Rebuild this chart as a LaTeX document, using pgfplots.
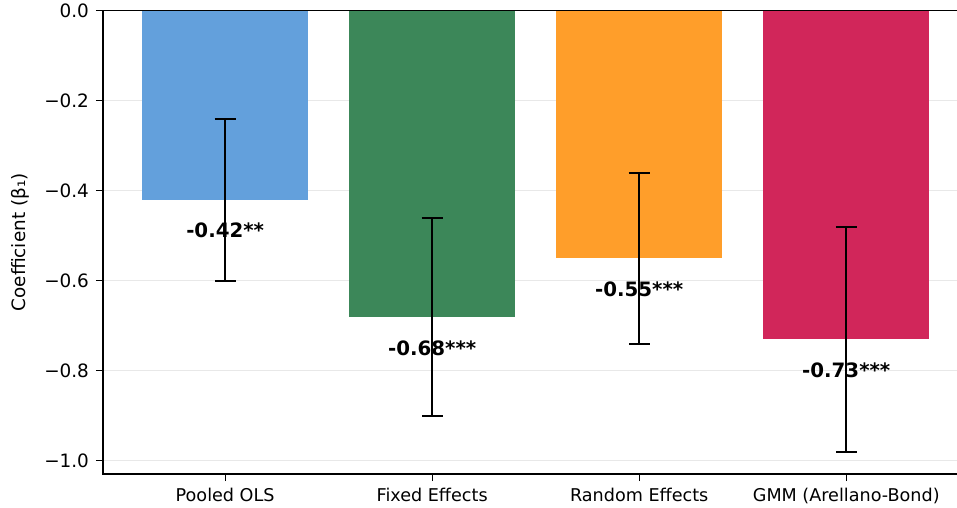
\documentclass[border=0pt]{standalone}
\usepackage{fontspec}
\setmainfont{DejaVu Sans}
\usepackage{pgfplots}
\pgfplotsset{compat=1.18}
\definecolor{cblue}{RGB}{99,160,220}
\definecolor{cgreen}{RGB}{60,135,89}
\definecolor{corange}{RGB}{255,158,42}
\definecolor{ccrimson}{RGB}{209,38,90}
\definecolor{gridc}{RGB}{232,232,232}
\begin{document}
\begin{tikzpicture}
\begin{axis}[
  scale only axis,
  width=433.73pt, height=231.7pt,
  xmin=-0.59, xmax=3.6,
  ymin=-1.03, ymax=0,
  xtick={0,1,2,3},
  xticklabels={Pooled OLS,Fixed Effects,Random Effects,GMM (Arellano-Bond)},
  ytick={-1.0,-0.8,-0.6,-0.4,-0.2,0.0},
  yticklabels={−1.0,−0.8,−0.6,−0.4,−0.2,0.0},
  tick label style={font=\fontsize{9.2}{11}\selectfont},
  xticklabel style={font=\fontsize{8.8}{11}\selectfont},
  tick pos=left,
  tick align=outside,
  major tick length=3.5pt,
  tick style={black, line width=0.6pt},
  axis line style={line width=0.6pt},
  ymajorgrids,
  grid style={gridc, line width=0.5pt},
  ylabel={Coefficient (β₁)},
  every axis y label/.style={at={(axis description cs:0,0.5)}, xshift=-41.5pt, rotate=90, anchor=center, font=\fontsize{9.2}{11}\selectfont},
]
\addplot[ybar, bar width=0.8, bar shift=0pt, fill=cblue, draw=none] coordinates {(0,-0.42)};
\addplot[ybar, bar width=0.8, bar shift=0pt, fill=cgreen, draw=none] coordinates {(1,-0.68)};
\addplot[ybar, bar width=0.8, bar shift=0pt, fill=corange, draw=none] coordinates {(2,-0.55)};
\addplot[ybar, bar width=0.8, bar shift=0pt, fill=ccrimson, draw=none] coordinates {(3,-0.73)};
\addplot[draw=none, mark=none, nodes near coords, point meta=explicit symbolic,
  every node near coord/.style={font=\bfseries\fontsize{9.9}{12}\selectfont, anchor=center, black}]
  coordinates {(0,-0.488) [-0.42**] (1,-0.750) [-0.68***] (2,-0.619) [-0.55***] (3,-0.800) [-0.73***]};
\addplot[draw=none, mark=none,
  error bars/.cd, y dir=both, y explicit,
  error bar style={black, line width=1pt},
  error mark options={rotate=90, mark size=5.25pt, line width=1pt, black}]
  coordinates {(0,-0.42) +- (0,0.18) (1,-0.68) +- (0,0.22) (2,-0.55) +- (0,0.19) (3,-0.73) +- (0,0.25)};
\end{axis}
\pgfresetboundingbox
\useasboundingbox ([xshift=-51.5pt,yshift=-16.5pt]current axis.south west) rectangle ([xshift=-6.73pt,yshift=5.35pt]current axis.north east);
\end{tikzpicture}
\end{document}
